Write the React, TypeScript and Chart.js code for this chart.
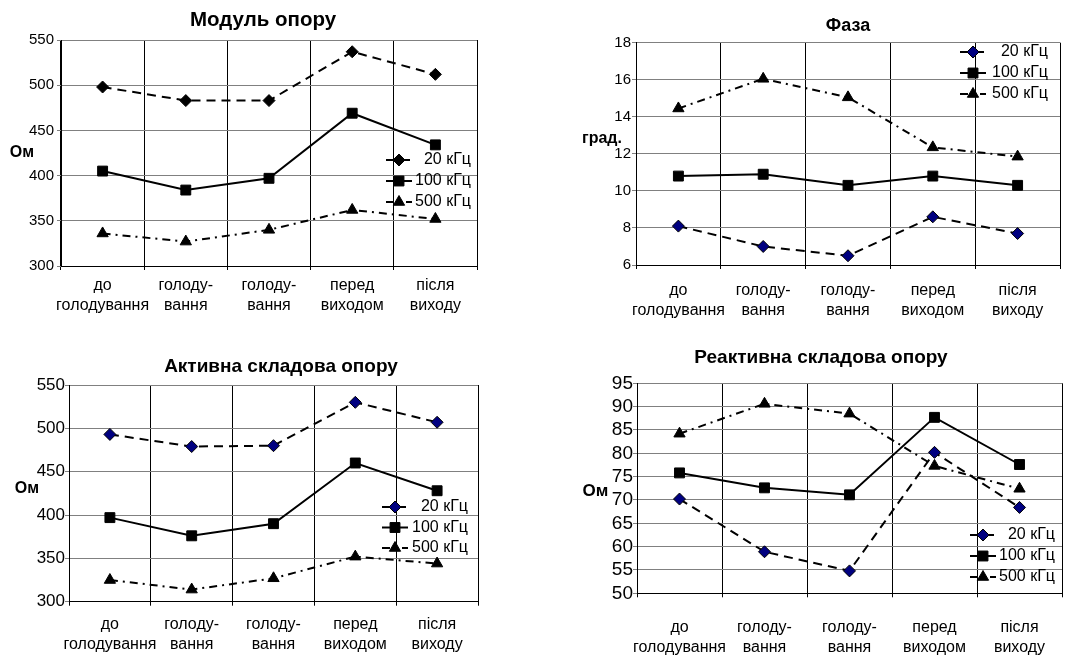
import React, { useEffect, useRef } from "react";
import { Chart, registerables } from "chart.js";
import { drawPoint } from "chart.js/helpers";

Chart.register(...registerables);

const FONT = '"Liberation Sans", Arial, Helvetica, sans-serif';

// ---- data ----
const categories: string[][] = [
  ["до", "голодування"],
  ["голоду-", "вання"],
  ["голоду-", "вання"],
  ["перед", "виходом"],
  ["після", "виходу"],
];
const seriesLabels = ["20 кГц", "100 кГц", "500 кГц"];

// Модуль опору, Ом
const modul20 = [498, 483, 483, 537, 512];
const modul100 = [405, 384, 397, 469, 434];
const modul500 = [336, 327, 340, 362, 352];

// Фаза, град.
const faza20 = [8.1, 7.0, 6.5, 8.6, 7.7];
const faza100 = [10.8, 10.9, 10.3, 10.8, 10.3];
const faza500 = [14.45, 16.05, 15.05, 12.35, 11.85];

// Активна складова опору, Ом
const aktyv20 = [493, 479, 480, 530, 507];
const aktyv100 = [397, 376, 390, 460, 428];
const aktyv500 = [325, 314, 327, 352, 344];

// Реактивна складова опору, Ом
const reakt20 = [70.2, 58.9, 54.8, 80.2, 68.4];
const reakt100 = [75.8, 72.6, 71.1, 87.7, 77.6];
const reakt500 = [84.2, 90.6, 88.5, 77.3, 72.4];

type Spec = {
  left: number; top: number; width: number; height: number;
  yWidth: number; padR: number; padT: number; xHeight: number; xPad: number; yPad: number;
  yMin: number; yMax: number; yStep: number; yFont: number;
  title: string; titleX: number; titleY: number; titleSize: number;
  yLabel: string; yLabelX: number; yLabelY: number; yLabelSize: number;
  legendX: number; legendTextRight: number; legendY: number; legendGap: number;
  data: number[][]; diamondFill: string;
};

const specs: Spec[] = [
  {
    left: 0, top: 0, width: 540, height: 330,
    yWidth: 61, padR: 63, padT: 40, xHeight: 64, xPad: 6, yPad: 3,
    yMin: 300, yMax: 550, yStep: 50, yFont: 15,
    title: "Модуль опору", titleX: 263, titleY: 26, titleSize: 20.5,
    yLabel: "Ом", yLabelX: 22, yLabelY: 157, yLabelSize: 16,
    legendX: 399, legendTextRight: 471, legendY: 160, legendGap: 21,
    data: [modul20, modul100, modul500], diamondFill: "#000000",
  },
  {
    left: 540, top: 0, width: 538, height: 330,
    yWidth: 96, padR: 18, padT: 42.7, xHeight: 65, xPad: 12, yPad: 1,
    yMin: 6, yMax: 18, yStep: 2, yFont: 15,
    title: "Фаза", titleX: 308, titleY: 31, titleSize: 18,
    yLabel: "град.", yLabelX: 62, yLabelY: 143, yLabelSize: 16,
    legendX: 433, legendTextRight: 508, legendY: 52, legendGap: 21,
    data: [faza20, faza100, faza500], diamondFill: "#000080",
  },
  {
    left: 0, top: 330, width: 540, height: 330,
    yWidth: 69, padR: 62, padT: 55, xHeight: 58.3, xPad: 8.6, yPad: 0,
    yMin: 300, yMax: 550, yStep: 50, yFont: 17,
    title: "Активна складова опору", titleX: 281, titleY: 41.7, titleSize: 19,
    yLabel: "Ом", yLabelX: 27, yLabelY: 162.7, yLabelSize: 16,
    legendX: 395, legendTextRight: 468, legendY: 177, legendGap: 20.5,
    data: [aktyv20, aktyv100, aktyv500], diamondFill: "#000080",
  },
  {
    left: 540, top: 330, width: 538, height: 330,
    yWidth: 97, padR: 16, padT: 53.3, xHeight: 66.7, xPad: 20.4, yPad: 0,
    yMin: 50, yMax: 95, yStep: 5, yFont: 19,
    title: "Реактивна складова опору", titleX: 281, titleY: 33.3, titleSize: 19,
    yLabel: "Ом", yLabelX: 55.5, yLabelY: 165.7, yLabelSize: 17,
    legendX: 443, legendTextRight: 515, legendY: 205, legendGap: 21,
    data: [reakt20, reakt100, reakt500], diamondFill: "#000080",
  },
];

const dashes = [[9, 6], [], [8, 5, 2, 5]];
const styles = ["rectRot", "rect", "triangle"];
const radii = [6, 7, 6.5];

function Panel({ spec }: { spec: Spec }) {
  const ref = useRef<HTMLCanvasElement>(null);
  useEffect(() => {
    const fills = [spec.diamondFill, "#000000", "#000000"];
    const overlay = {
      id: "overlay" + spec.left + "_" + spec.top,
      afterDraw(chart: any) {
        const ctx = chart.ctx as CanvasRenderingContext2D;
        ctx.save();
        ctx.fillStyle = "#000";
        ctx.textBaseline = "alphabetic";
        ctx.textAlign = "center";
        ctx.font = `bold ${spec.titleSize}px ${FONT}`;
        ctx.fillText(spec.title, spec.titleX, spec.titleY);
        ctx.font = `bold ${spec.yLabelSize}px ${FONT}`;
        ctx.fillText(spec.yLabel, spec.yLabelX, spec.yLabelY);
        chart.data.datasets.forEach((ds: any, i: number) => {
          const y = spec.legendY + i * spec.legendGap;
          ctx.strokeStyle = "#000";
          ctx.lineWidth = 2;
          ctx.setLineDash(dashes[i]);
          ctx.beginPath();
          ctx.moveTo(spec.legendX - 13, y);
          ctx.lineTo(spec.legendX + 13, y);
          ctx.stroke();
          ctx.setLineDash([]);
          ctx.fillStyle = fills[i];
          ctx.strokeStyle = "#000";
          ctx.lineWidth = 1;
          drawPoint(ctx, { pointStyle: styles[i] as any, radius: radii[i], borderWidth: 1, rotation: 0 } as any, spec.legendX, y);
          ctx.fillStyle = "#000";
          ctx.textAlign = "right";
          ctx.textBaseline = "middle";
          ctx.font = `16px ${FONT}`;
          ctx.fillText(ds.label, spec.legendTextRight, y);
        });
        ctx.restore();
      },
    };
    const chart = new Chart(ref.current!, {
      type: "line",
      data: {
        labels: categories,
        datasets: spec.data.map((values, i) => ({
          label: seriesLabels[i],
          data: values,
          borderColor: "#000",
          borderWidth: 2,
          borderDash: dashes[i],
          pointStyle: styles[i] as any,
          pointRadius: radii[i],
          pointBackgroundColor: fills[i],
          pointBorderColor: "#000",
          pointBorderWidth: 1,
          tension: 0,
          fill: false,
        })),
      },
      options: {
        responsive: false,
        animation: false,
        layout: { padding: { left: 0, right: spec.padR, top: spec.padT, bottom: 0 } },
        plugins: {
          legend: { display: false },
          title: { display: false },
          tooltip: { enabled: false },
        },
        scales: {
          x: {
            type: "category",
            offset: true,
            grid: { offset: true, color: "#000", lineWidth: 1, tickLength: 4, tickColor: "#000", drawTicks: true },
            border: { color: "#000", width: 1 },
            ticks: {
              color: "#000",
              font: { family: FONT, size: 16, lineHeight: 1.25 },
              padding: spec.xPad,
              maxRotation: 0,
              autoSkip: false,
            },
            afterFit: (s: any) => { s.height = spec.xHeight; },
          },
          y: {
            min: spec.yMin,
            max: spec.yMax,
            grid: { color: "#808080", lineWidth: 1, tickLength: 4, tickColor: "#808080" },
            border: { color: "#000", width: 1 },
            ticks: {
              stepSize: spec.yStep,
              autoSkip: false,
              color: "#000",
              font: { family: FONT, size: spec.yFont, lineHeight: 1 },
              padding: spec.yPad,
            },
            afterFit: (s: any) => { s.width = spec.yWidth; },
          },
        },
      },
      plugins: [overlay],
    });
    return () => chart.destroy();
  }, [spec]);
  return (
    <canvas
      ref={ref}
      width={spec.width}
      height={spec.height}
      style={{ position: "absolute", left: spec.left, top: spec.top, width: spec.width, height: spec.height }}
    />
  );
}

export default function App() {
  return (
    <div style={{ position: "absolute", left: 0, top: 0, width: 1078, height: 660, background: "#fff", overflow: "hidden" }}>
      {specs.map((s, i) => (
        <Panel key={i} spec={s} />
      ))}
    </div>
  );
}
